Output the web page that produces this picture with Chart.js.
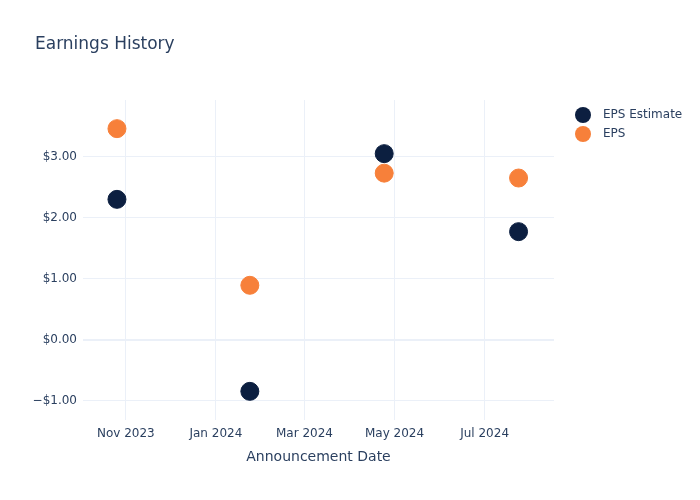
<!DOCTYPE html>
<html>
<head>
<meta charset="utf-8">
<script src="https://cdn.jsdelivr.net/npm/chart.js@4"></script>
<style>
  html, body { margin: 0; padding: 0; background: #fff; }
  #wrap { width: 700px; height: 500px; }
</style>
</head>
<body>
<div id="wrap"><canvas id="chart"></canvas></div>
<script>
// Earnings data
const announceDates = ['2023-10-26', '2024-01-24', '2024-04-24', '2024-07-24'];
const epsEstimate = [2.30, -0.85, 3.05, 1.77];
const epsActual = [3.46, 0.89, 2.73, 2.65];

// x axis ticks (month starts) and their labels
const xTickDates = ['2023-11-01', '2024-01-01', '2024-03-01', '2024-05-01', '2024-07-01'];
const xTickLabels = ['Nov 2023', 'Jan 2024', 'Mar 2024', 'May 2024', 'Jul 2024'];
const yTickValues = [-1, 0, 1, 2, 3];

const FONT = 'DejaVu Sans';
const TEXT = '#2a3f5f';
const GRID = '#ebf0f8';

const toMs = d => Date.parse(d);
const xTicks = xTickDates.map(toMs);

function points(values) {
    return values.map((v, i) => ({ x: toMs(announceDates[i]), y: v }));
}

function money(v) {
    const s = '$' + Math.abs(v).toFixed(2);
    return v < 0 ? '\u2212' + s : s;
}

// Title and legend drawn in plotly-ish style
const decorations = {
    id: 'decorations',
    afterDraw(chart) {
        const ctx = chart.ctx;
        ctx.save();
        ctx.fillStyle = TEXT;
        ctx.textBaseline = 'middle';
        ctx.textAlign = 'left';
        ctx.font = '17px "' + FONT + '"';
        ctx.fillText('Earnings History', 35, 45);

        ctx.font = '12px "' + FONT + '"';
        chart.data.datasets.forEach((ds, i) => {
            const y = 115 + i * 19;
            ctx.beginPath();
            ctx.arc(583, y, 8, 0, Math.PI * 2);
            ctx.fillStyle = ds.backgroundColor;
            ctx.fill();
            ctx.fillStyle = TEXT;
            ctx.fillText(ds.label, 603, y);
        });
        ctx.restore();
    }
};

new Chart(document.getElementById('chart'), {
    type: 'scatter',
    data: {
        datasets: [
            {
                label: 'EPS Estimate',
                data: points(epsEstimate),
                backgroundColor: '#0c1f40',
                borderColor: '#0c1f40',
                pointRadius: 9,
                pointHoverRadius: 9
            },
            {
                label: 'EPS',
                data: points(epsActual),
                backgroundColor: '#f7803a',
                borderColor: '#f7803a',
                pointRadius: 9,
                pointHoverRadius: 9
            }
        ]
    },
    options: {
        responsive: true,
        maintainAspectRatio: false,
        animation: false,
        layout: { padding: { left: 0, right: 146, top: 100, bottom: 0 } },
        plugins: {
            legend: { display: false },
            tooltip: { enabled: false }
        },
        scales: {
            x: {
                type: 'linear',
                min: toMs('2023-10-03'),
                max: toMs('2024-08-17'),
                afterBuildTicks(scale) {
                    scale.ticks = xTicks.map(v => ({ value: v }));
                },
                afterFit(scale) { scale.height = 80; },
                grid: { color: GRID, lineWidth: 1, drawTicks: false },
                border: { display: false },
                ticks: {
                    padding: 7,
                    color: TEXT,
                    font: { family: FONT, size: 12 },
                    maxRotation: 0,
                    callback: v => xTickLabels[xTicks.indexOf(v)] || ''
                },
                title: {
                    display: true,
                    text: 'Announcement Date',
                    color: TEXT,
                    font: { family: FONT, size: 14 },
                    padding: { top: 0, bottom: 34 }
                }
            },
            y: {
                min: -1.32,
                max: 3.93,
                afterBuildTicks(scale) {
                    scale.ticks = yTickValues.map(v => ({ value: v }));
                },
                afterFit(scale) { scale.width = 83; },
                grid: {
                    color: GRID,
                    lineWidth: ctx => ctx.tick && ctx.tick.value === 0 ? 2 : 1,
                    drawTicks: false
                },
                border: { display: false },
                ticks: {
                    padding: 6,
                    color: TEXT,
                    font: { family: FONT, size: 12 },
                    callback: v => money(v)
                }
            }
        }
    },
    plugins: [decorations]
});
</script>
</body>
</html>
